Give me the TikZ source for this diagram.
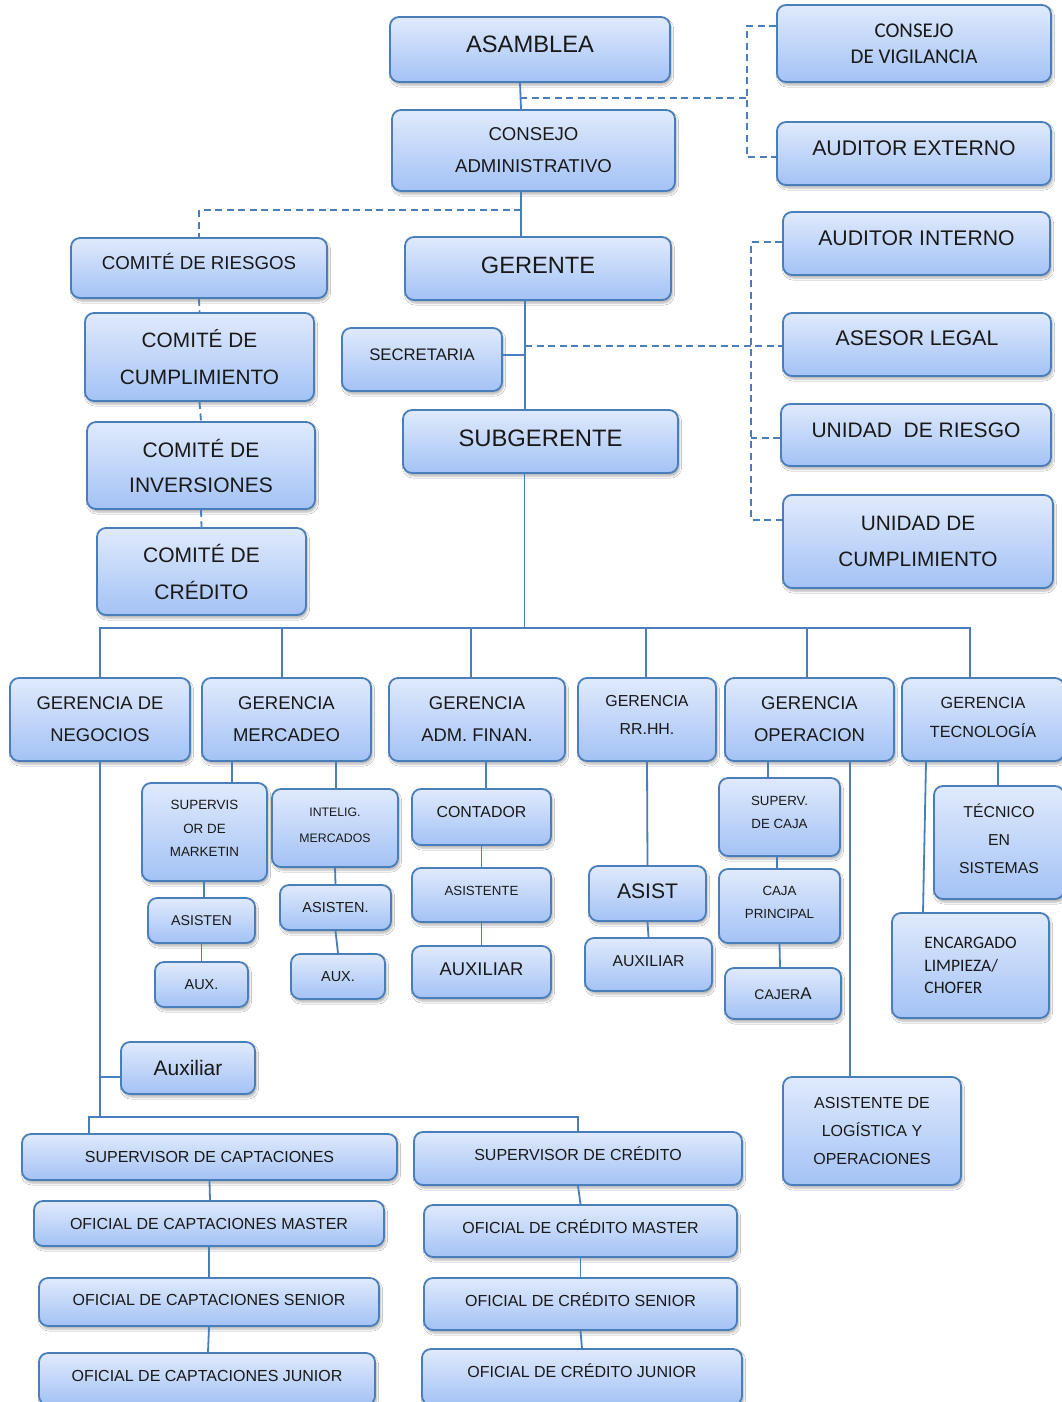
\documentclass[tikz,border=0pt]{standalone}
\usepackage{fontspec}
\setmainfont{Liberation Sans}
\newfontfamily\carlfont{Carlito}
\usetikzlibrary{shadows.blur}
\definecolor{bord}{RGB}{74,126,187}
\definecolor{btop}{RGB}{224,234,252}
\definecolor{bbot}{RGB}{163,194,245}
\newcommand\fsz[2]{\fontsize{#1pt}{#2pt}\selectfont}
\newcommand\bx[8][]{\node[box,font={#7},minimum width={(#5-#3)*1pt},minimum height={(#6-#4)*1pt},#1] (#2) at ({(#3+#5)/2},{(#4+#6)/2}) {#8};}
\begin{document}
\begin{tikzpicture}[x=1pt,y=-1pt,
  box/.style={draw=bord,line width=1.8pt,rounded corners=9pt,top color=btop,bottom color=bbot,
    blur shadow={shadow xshift=1.5pt,shadow yshift=-3pt,shadow blur steps=6,shadow opacity=30},
    align=center,inner sep=0pt,text=black!90},
  tup/.style={text depth={2*#1pt}},
  ln/.style={draw=bord,line width=1.8pt},
  dsh/.style={ln,dash pattern=on 7pt off 4.5pt}]
\fill[white] (0,0) rectangle (1062,1402);
\useasboundingbox (0,0) rectangle (1062,1402);

% top
\bx[tup=5]{asam}{390}{17}{670}{82}{\fsz{23.7}{28}}{ASAMBLEA}
\bx{cvig}{777}{5}{1051}{82}{\carlfont\fsz{21}{26}}{CONSEJO\\DE VIGILANCIA}
\bx{cadm}{392}{110}{675}{191}{\fsz{18.6}{32}}{CONSEJO\\ADMINISTRATIVO}
\bx[tup=5.5]{aext}{777}{122}{1051}{185}{\fsz{21.2}{26}}{AUDITOR EXTERNO}
\bx[tup=7]{crie}{71}{238}{327}{298}{\fsz{18.7}{24}}{COMITÉ DE RIESGOS}
\bx[tup=3.5]{ger}{405}{237}{671}{300}{\fsz{23.6}{28}}{GERENTE}
\bx[tup=5.5]{aint}{783}{212}{1050}{275}{\fsz{21.2}{26}}{AUDITOR INTERNO}
\bx{ccum}{85}{313}{314}{401}{\fsz{20.8}{37}}{COMITÉ DE\\CUMPLIMIENTO}
\bx[tup=4.5]{sec}{342}{328}{502}{391}{\fsz{16.7}{20}}{SECRETARIA}
\bx[tup=6.5]{ales}{783}{313}{1051}{376}{\fsz{21.2}{26}}{ASESOR LEGAL}
\bx{cinv}{87}{422}{315}{509}{\fsz{21}{35}}{COMITÉ DE\\INVERSIONES}
\bx[tup=3.5]{sub}{403}{410}{678}{473}{\fsz{23.8}{28}}{SUBGERENTE}
\bx[tup=5]{uri}{781}{404}{1051}{466}{\fsz{21}{26}}{UNIDAD\ \ DE RIESGO}
\bx{ccre}{97}{528}{306}{615}{\fsz{21}{37}}{COMITÉ DE\\CRÉDITO}
\bx{ucum}{783}{495}{1053}{588}{\fsz{20.8}{36}}{UNIDAD DE\\CUMPLIMIENTO}

% gerencias
\bx{gneg}{10}{678}{190}{761}{\fsz{18.4}{32}}{GERENCIA DE\\NEGOCIOS}
\bx{gmer}{202}{678}{371}{761}{\fsz{18.5}{32}}{GERENCIA\\MERCADEO}
\bx{gadm}{389}{678}{565}{761}{\fsz{18.4}{32}}{GERENCIA\\ADM. FINAN.}
\bx[tup=4.5]{grh}{578}{678}{716}{761}{\fsz{15.9}{28}}{GERENCIA\\RR.HH.}
\bx{gop}{725}{678}{894}{761}{\fsz{18.5}{32}}{GERENCIA\\OPERACION}
\bx[tup=2]{gtec}{902}{678}{1064}{761}{\fsz{16.2}{29}}{GERENCIA\\TECNOLOGÍA}

% sub-units
\bx[tup=3.5]{smk}{142}{783}{267}{881}{\fsz{13.4}{23.5}}{SUPERVIS\\OR DE\\MARKETIN}
\bx{asn1}{148}{898}{255}{943}{\fsz{14.2}{18}}{ASISTEN}
\bx{aux1}{155}{962}{248}{1007}{\fsz{14.5}{18}}{AUX.}
\bx[tup=3]{imk}{272}{789}{398}{867}{\fsz{12.3}{26}}{INTELIG.\\MERCADOS}
\bx{asn2}{280}{885}{391}{930}{\fsz{14.5}{18}}{ASISTEN.}
\bx{aux2}{291}{954}{385}{999}{\fsz{14.5}{18}}{AUX.}
\bx[tup=5]{cont}{412}{789}{551}{845}{\fsz{15.9}{20}}{CONTADOR}
\bx[tup=4]{asi3}{412}{868}{551}{922}{\fsz{13.3}{18}}{ASISTENTE}
\bx[tup=3]{aux3}{412}{946}{551}{998}{\fsz{18.4}{22}}{AUXILIAR}
\bx[tup=2.5]{asist}{589}{866}{706}{921}{\fsz{21.1}{26}}{ASIST}
\bx[tup=3.5]{aux4}{585}{938}{712}{991}{\fsz{15.8}{20}}{AUXILIAR}
\bx[tup=4.5]{scaja}{719}{778}{840}{856}{\fsz{13.3}{23}}{SUPERV.\\DE CAJA}
\bx[tup=3.5]{cprin}{719}{869}{840}{943}{\fsz{13.3}{23}}{CAJA\\PRINCIPAL}
\bx{caj}{725}{968}{841}{1019}{\fsz{14}{18}}{CAJER{\fsz{17}{18}A}}
\bx{alog}{783}{1077}{961}{1185}{\fsz{16}{28}}{ASISTENTE DE\\LOGÍSTICA Y\\OPERACIONES}
\bx[tup=3.5]{tec}{934}{786}{1064}{899}{\fsz{15.8}{28}}{TÉCNICO\\EN\\SISTEMAS}
\bx[align=left,xshift=-3pt]{enc}{895}{913}{1052}{1018}{\carlfont\fsz{17.5}{22.5}}{ENCARGADO\\LIMPIEZA/\\CHOFER}
\bx{auxn}{121}{1042}{255}{1094}{\fsz{21}{26}}{Auxiliar}

% bottom chains
\bx{scap}{22}{1134}{397}{1180}{\fsz{16}{20}}{SUPERVISOR DE CAPTACIONES}
\bx{ocm}{34}{1201}{384}{1246}{\fsz{16}{20}}{OFICIAL DE CAPTACIONES MASTER}
\bx[tup=2]{ocs}{39}{1278}{379}{1326}{\fsz{16}{20}}{OFICIAL DE CAPTACIONES SENIOR}
\bx[tup=3]{ocj}{39}{1353}{375}{1405}{\fsz{16}{20}}{OFICIAL DE CAPTACIONES JUNIOR}
\bx[tup=4.5]{scr}{414}{1132}{742}{1185}{\fsz{16}{20}}{SUPERVISOR DE CRÉDITO}
\bx[tup=4]{ocrm}{424}{1205}{737}{1257}{\fsz{16}{20}}{OFICIAL DE CRÉDITO MASTER}
\bx[tup=4]{ocrs}{424}{1278}{737}{1330}{\fsz{16}{20}}{OFICIAL DE CRÉDITO SENIOR}
\bx[tup=6]{ocrj}{422}{1349}{742}{1405}{\fsz{16}{20}}{OFICIAL DE CRÉDITO JUNIOR}

% solid connectors
\draw[ln] ([xshift=-10pt]asam.south) -- ([xshift=-12.5pt]cadm.north);
\draw[ln] ([xshift=-12.5pt]cadm.south) -- ([xshift=-17pt]ger.north);
\draw[ln] ([xshift=-13pt]ger.south) -- ([xshift=-15.5pt]sub.north);
\draw[ln] ([yshift=4.5pt]sec.east) -- ++(23,0);
\coordinate (busL) at (100,628);
\coordinate (busR) at (970,628);
\draw[ln] ([xshift=-16pt]sub.south) -- ++(0,155);
\draw[ln] (gneg.north) -- (busL) -- (busR) -- ([xshift=-13pt]gtec.north);
\draw[ln] ([xshift=-4.5pt]gmer.north) -- ++(0,-50);
\draw[ln] ([xshift=-6pt]gadm.north) -- ++(0,-50);
\draw[ln] ([xshift=-1pt]grh.north) -- ++(0,-50);
\draw[ln] ([xshift=-2.5pt]gop.north) -- ++(0,-50);

\coordinate (nbL) at (89,1117);
\coordinate (nbR) at (578,1117);
\coordinate (nbV) at (100,1117);
\draw[ln] (gneg.south) -- (nbV);
\draw[ln] ([xshift=-120.5pt]scap.north) -- (nbL) -- (nbR) -- (scr.north);
\draw[ln] ([yshift=-9pt]auxn.west) -- ++(-21,0);

\draw[ln] ([xshift=-54.5pt]gmer.south) -- ([xshift=27.5pt]smk.north);
\draw[ln] ([xshift=49.5pt]gmer.south) -- ([xshift=1pt]imk.north);
\draw[ln] ([xshift=-0.5pt]smk.south) -- ([xshift=2.5pt]asn1.north);
\draw[ln] (asn1.south) -- (aux1.north);
\draw[ln] (imk.south) -- (asn2.north);
\draw[ln] (asn2.south) -- (aux2.north);

\draw[ln] ([xshift=9pt]gadm.south) -- ([xshift=4.5pt]cont.north);
\draw[ln] (cont.south) -- (asi3.north);
\draw[ln] (asi3.south) -- (aux3.north);

\draw[ln] (grh.south) -- (asist.north);
\draw[ln] (asist.south) -- (aux4.north);

\draw[ln] ([xshift=-41.5pt]gop.south) -- ([xshift=-11.5pt]scaja.north);
\draw[ln] ([xshift=-2.5pt]scaja.south) -- ([xshift=-2.5pt]cprin.north);
\draw[ln] (cprin.south) -- ([xshift=-3pt]caj.north);
\draw[ln] ([xshift=40.5pt]gop.south) -- ([xshift=-22pt]alog.north);

\draw[ln] ([xshift=15pt]gtec.south) -- ([xshift=-1pt]tec.north);
\draw[ln] ([xshift=-57pt]gtec.south) -- ([xshift=-47.5pt]enc.north);

\draw[ln] (scap.south) -- ([xshift=1pt]ocm.north);
\draw[ln] (ocm.south) -- (ocs.north);
\draw[ln] (ocs.south) -- ([xshift=1pt]ocj.north);
\draw[ln] (scr.south) -- (ocrm.north);
\draw[ln] (ocrm.south) -- (ocrs.north);
\draw[ln] (ocrs.south) -- (ocrj.north);

% dashed connectors
\coordinate (d1) at (520,98);
\coordinate (d2) at (748,98);
\draw[dsh] (d1) -- (d2);
\draw[dsh] ([yshift=17.5pt]cvig.west) -- ++(-29,0) |- ([yshift=-3.5pt]aext.west);
\coordinate (d3) at (521,210);
\draw[dsh] (d3) -| (crie.north);
\draw[dsh] (crie.south) -- (ccum.north);
\draw[dsh] (ccum.south) -- (cinv.north);
\draw[dsh] (cinv.south) -- (ccre.north);
\coordinate (d4) at (525,346);
\draw[dsh] (d4) -- (d4 -| ales.west);
\draw[dsh] ([yshift=1.5pt]aint.west) -- ++(-31,0) |- ([yshift=21.5pt]ucum.west);
\draw[dsh] ([yshift=-3pt]uri.west) -- ++(-29,0);
\end{tikzpicture}
\end{document}
